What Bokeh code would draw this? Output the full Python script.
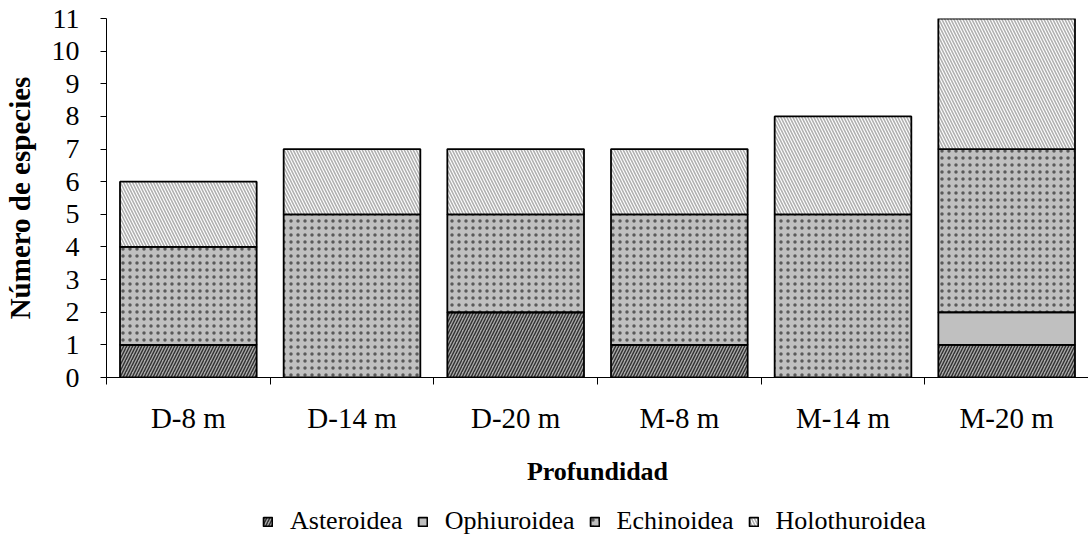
from bokeh.plotting import figure
from bokeh.models import Range1d, FixedTicker, Legend, ColumnDataSource, BoxAnnotation
from bokeh.layouts import column
from bokeh.embed import file_html
from bokeh.resources import INLINE

categories = ["D-8 m", "D-14 m", "D-20 m", "M-8 m", "M-14 m", "M-20 m"]
series_names = ["Asteroidea", "Ophiuroidea", "Echinoidea", "Holothuroidea"]
asteroidea = [1, 0, 2, 1, 0, 1]
ophiuroidea = [0, 0, 0, 0, 0, 1]
echinoidea = [3, 5, 3, 4, 5, 5]
holothuroidea = [2, 2, 2, 2, 3, 4]
y_ticks = list(range(0, 12))

FONT = "Liberation Serif"

xs = [i + 0.5 for i in range(len(categories))]
src = ColumnDataSource(dict(x=xs, Asteroidea=asteroidea, Ophiuroidea=ophiuroidea,
                            Echinoidea=echinoidea, Holothuroidea=holothuroidea))

style = dict(fill_color=["#a8a8a8", "#c0c0c0", "#c0c0c0", "white"],
             hatch_pattern=["/", " ", ".", "\\"],
             hatch_color=["#303030", "#c0c0c0", "#5a5a5a", "#b0b0b0"],
             hatch_scale=[6, 6, 7, 6],
             hatch_weight=[1.4, 1, 1, 1.6],
             line_color="black", line_width=1.8)

p = figure(width=1088, height=500, output_backend="svg", toolbar_location=None,
           x_range=Range1d(0, len(categories)), y_range=Range1d(0, 11),
           min_border_left=103, min_border_right=0, min_border_top=18,
           min_border_bottom=123)
p.outline_line_color = None
p.grid.visible = False
p.background_fill_color = "white"
p.border_fill_color = "white"

p.vbar_stack(series_names, x="x", width=0.835, source=src, **style)

# y axis
ya = p.yaxis[0]
ya.ticker = FixedTicker(ticks=y_ticks)
ya.axis_label = "Número de especies"
ya.axis_label_text_font = FONT
ya.axis_label_text_font_style = "bold"
ya.axis_label_text_font_size = "29px"
ya.axis_label_text_color = "black"
ya.axis_label_standoff = 13
ya.major_label_text_font = FONT
ya.major_label_text_font_size = "28px"
ya.major_label_text_color = "black"
ya.major_label_standoff = 21
ya.major_tick_out = 6
ya.major_tick_in = 0
ya.minor_tick_out = 0
ya.minor_tick_in = 0
ya.axis_line_color = "black"
ya.major_tick_line_color = "black"

# x axis: labels at centres, tick marks at category boundaries
xa = p.xaxis[0]
xa.ticker = FixedTicker(ticks=xs, minor_ticks=list(range(0, len(categories) + 1)))
xa.major_label_overrides = {x: c for x, c in zip(xs, categories)}
xa.axis_label = "Profundidad"
xa.axis_label_text_font = FONT
xa.axis_label_text_font_style = "bold"
xa.axis_label_text_font_size = "26px"
xa.axis_label_text_color = "black"
xa.axis_label_standoff = 20
xa.major_label_text_font = FONT
xa.major_label_text_font_size = "29px"
xa.major_label_text_color = "black"
xa.major_label_standoff = 17
xa.major_tick_out = 0
xa.major_tick_in = 0
xa.minor_tick_out = 7
xa.minor_tick_in = 0
xa.minor_tick_line_color = "black"
xa.axis_line_color = "black"

# legend strip below the chart; its own bars are covered by a white box
lg = figure(width=1088, height=38, output_backend="svg", toolbar_location=None,
            x_range=Range1d(-1, len(categories) + 1), y_range=Range1d(-5, 20),
            x_axis_location=None, y_axis_location=None,
            min_border_left=0, min_border_right=0, min_border_top=0,
            min_border_bottom=0)
lg.grid.visible = False
lg.outline_line_color = None
lg.background_fill_color = "white"
lg.border_fill_color = "white"
leg_renderers = lg.vbar_stack(series_names, x="x", width=0.8, source=src, **style)
lg.add_layout(BoxAnnotation(fill_color="white", fill_alpha=1.0, line_alpha=0.0,
                            line_color=None))

legend = Legend(items=[(n, [r]) for n, r in zip(series_names, leg_renderers)],
                orientation="horizontal", location=(156, 2),
                label_text_font=FONT, label_text_font_size="26px",
                label_text_color="black",
                glyph_width=11, glyph_height=11, label_standoff=17, spacing=14,
                padding=0, margin=0, border_line_color=None,
                background_fill_alpha=0)
lg.add_layout(legend, "center")

layout = column(p, lg, spacing=0)
open("out.html", "w").write(file_html(layout, INLINE))
